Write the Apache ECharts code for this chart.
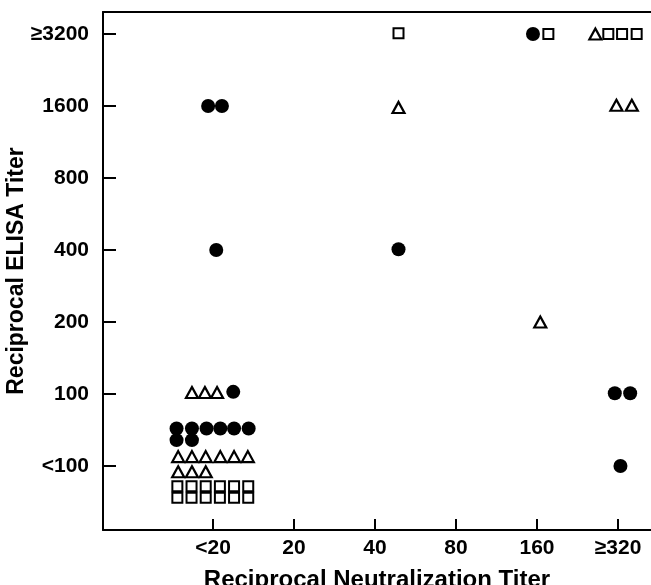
<!DOCTYPE html>
<html>
<head>
<meta charset="utf-8">
<script src="https://cdn.jsdelivr.net/npm/echarts@6/dist/echarts.min.js"></script>
<style>html,body{margin:0;padding:0;background:#fff}#c{width:651px;height:585px}</style>
</head>
<body>
<div id="c"></div>
<script>
// Category tick labels (positions 0..n-1 on each axis)
var xCategories = ['<20', '20', '40', '80', '160', '\u2265320'];
var yCategories = ['<100', '100', '200', '400', '800', '1600', '\u22653200'];

// Filled circles: [neutralization position, ELISA position] (jittered as in the figure)
var circlePoints = [
  [-0.06, 5.0], [0.11, 5.0],
  [0.04, 3.0],
  [2.29, 3.01],
  [3.95, 6.0],
  [4.96, 1.01], [5.15, 1.01],
  [5.03, 0.0],
  [0.25, 1.03],
  [-0.45, 0.52], [-0.26, 0.52], [-0.08, 0.52], [0.09, 0.52], [0.26, 0.52], [0.44, 0.52],
  [-0.45, 0.36], [-0.26, 0.36]
];

// Open triangles
var trianglePoints = [
  [-0.26, 1.02], [-0.10, 1.02], [0.05, 1.02],
  [-0.43, 0.13], [-0.26, 0.13], [-0.09, 0.13], [0.09, 0.13], [0.26, 0.13], [0.43, 0.13],
  [-0.43, -0.08], [-0.26, -0.08], [-0.09, -0.08],
  [2.29, 4.98],
  [4.04, 2.0],
  [4.72, 6.0],
  [4.98, 5.01], [5.17, 5.01]
];

// Open squares
var squarePoints = [
  [-0.44, -0.28], [-0.265, -0.28], [-0.09, -0.28], [0.085, -0.28], [0.26, -0.28], [0.435, -0.28],
  [-0.44, -0.44], [-0.265, -0.44], [-0.09, -0.44], [0.085, -0.44], [0.26, -0.44], [0.435, -0.44],
  [2.29, 6.01],
  [4.14, 6.0],
  [4.88, 6.0], [5.05, 6.0], [5.23, 6.0]
];

var xTickValues = xCategories.map(function (_, i) { return i; });
var yTickValues = yCategories.map(function (_, i) { return i; });

var font = '"Liberation Sans", Arial, Helvetica, sans-serif';
var xMin = -1.358, xMax = 5.407;
var chart = echarts.init(document.getElementById('c'), null, {renderer: 'canvas'});
chart.setOption({
  animation: false,
  backgroundColor: '#fff',
  grid: {left: 103, top: 12, bottom: 55, right: 0, show: false, containLabel: false, outerBoundsMode: 'none'},
  xAxis: [{
    type: 'value',
    min: xMin, max: xMax,
    name: 'Reciprocal Neutralization Titer',
    nameLocation: 'middle',
    nameGap: 38,
    nameTextStyle: {fontFamily: font, fontWeight: 'bold', fontSize: 24, color: '#000'},
    axisLine: {show: true, onZero: false, lineStyle: {color: '#000', width: 2}},
    axisTick: {show: true, inside: true, length: 11, lineStyle: {color: '#000', width: 2}, customValues: xTickValues},
    axisLabel: {
      show: true, margin: 8, customValues: xTickValues,
      fontFamily: font, fontWeight: 'bold', fontSize: 21, color: '#000',
      formatter: function (v) { return xCategories[Math.round(v)]; }
    },
    splitLine: {show: false}
  }, {
    type: 'value', position: 'top',
    min: xMin, max: xMax,
    axisLine: {show: true, onZero: false, lineStyle: {color: '#000', width: 2}},
    axisTick: {show: false}, axisLabel: {show: false}, splitLine: {show: false}
  }],
  yAxis: {
    type: 'value',
    min: -0.889, max: 6.306,
    name: 'Reciprocal ELISA Titer',
    nameLocation: 'middle',
    nameGap: 75,
    nameMoveOverlap: false,
    nameRotate: 90,
    nameTextStyle: {fontFamily: font, fontWeight: 'bold', fontSize: 23, color: '#000'},
    axisLine: {show: true, onZero: false, lineStyle: {color: '#000', width: 2}},
    axisTick: {show: true, inside: true, length: 13, lineStyle: {color: '#000', width: 2}, customValues: yTickValues},
    axisLabel: {
      show: true, margin: 14, customValues: yTickValues,
      fontFamily: font, fontWeight: 'bold', fontSize: 21, color: '#000',
      formatter: function (v) { return yCategories[Math.round(v)]; }
    },
    splitLine: {show: false}
  },
  series: [
    {
      type: 'scatter', name: 'circle', data: circlePoints,
      symbol: 'circle', symbolSize: 14,
      itemStyle: {color: '#000', opacity: 1}
    },
    {
      type: 'scatter', name: 'triangle', data: trianglePoints,
      symbol: 'triangle', symbolSize: [12, 11],
      itemStyle: {color: '#fff', borderColor: '#000', borderWidth: 2.2, opacity: 1}
    },
    {
      type: 'scatter', name: 'square', data: squarePoints,
      symbol: 'rect', symbolSize: 10,
      itemStyle: {color: '#fff', borderColor: '#000', borderWidth: 2, opacity: 1}
    }
  ]
});
</script>
</body>
</html>
